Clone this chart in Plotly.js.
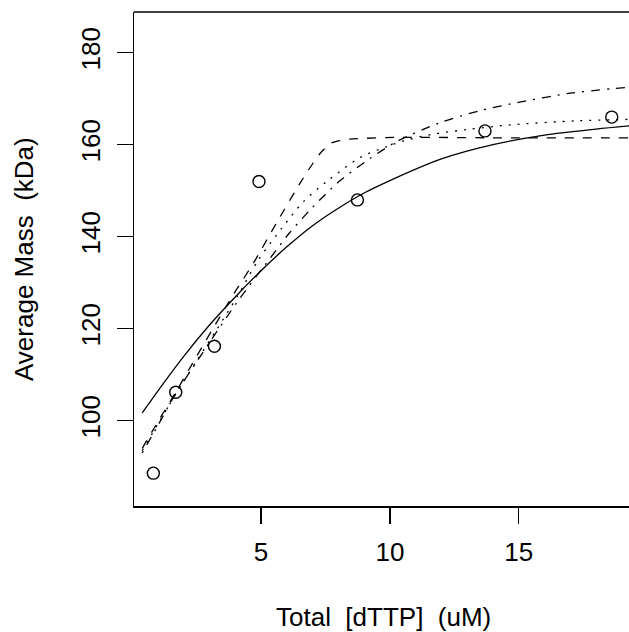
<!DOCTYPE html>
<html>
<head>
<meta charset="utf-8">
<script src="https://cdn.plot.ly/plotly-3.0.1.min.js"></script>
<style>html,body{margin:0;padding:0;background:#fff;overflow:hidden}#chart{width:629px;height:632px}</style>
</head>
<body>
<div id="chart"></div>
<script>
// Observed data (open circles)
const obsX = [0.82, 1.69, 3.19, 4.92, 8.74, 13.69, 18.61];
const obsY = [88.6, 106.2, 116.2, 152.0, 148.0, 163.0, 166.0];

// Fitted curves
const solidX = [0.39, 1.0, 2.0, 3.0, 4.0, 5.0, 6.0, 7.0, 8.0, 9.0, 10.0, 12.0, 14.0, 16.0, 18.0, 19.29];
const solidY = [101.7, 106.5, 114.0, 120.8, 126.9, 132.6, 137.8, 142.4, 146.2, 149.5, 152.2, 156.9, 160.0, 162.1, 163.4, 164.1];

const dashX = [0.39, 1.0, 1.69, 2.5, 3.3, 3.99, 4.70, 5.6, 6.51, 6.84, 7.29, 7.74, 8.45, 10.4, 14.0, 19.29];
const dashY = [94.0, 99.8, 106.2, 114.0, 121.6, 128.0, 134.2, 143.0, 151.6, 154.5, 158.1, 160.4, 161.2, 161.6, 161.5, 161.5];

const dotX = [0.39, 1.0, 1.69, 2.5, 3.3, 4.1, 4.89, 5.8, 6.64, 7.55, 8.84, 9.88, 10.78, 11.69, 12.99, 14.67, 17.26, 19.29];
const dotY = [93.5, 99.3, 105.8, 113.0, 120.0, 127.2, 134.9, 141.8, 147.6, 152.0, 157.2, 159.6, 161.2, 162.3, 163.3, 164.3, 165.2, 165.5];

const dotdashX = [0.39, 1.0, 1.69, 2.5, 3.3, 4.1, 5.35, 6.1, 6.90, 7.68, 8.07, 9.23, 10.27, 11.95, 13.5, 14.99, 17.0, 19.29];
const dotdashY = [93.0, 99.0, 105.9, 112.8, 119.5, 126.0, 135.3, 140.8, 145.8, 150.2, 152.2, 157.0, 160.7, 164.8, 167.4, 169.2, 171.2, 172.5];

const xTicks = [5, 10, 15];
const yTicks = [100, 120, 140, 160, 180];
const xLabel = 'Total\u00A0 [dTTP]\u00A0 (uM)';
const yLabel = 'Average Mass\u00A0 (kDa)';

const FONT = 'Liberation Sans, Arial, Helvetica, sans-serif';
const LW = 1.3;

const traces = [
  {x: solidX, y: solidY, mode: 'lines', line: {color: 'black', width: LW, dash: 'solid', shape: 'spline', smoothing: 0.8}, hoverinfo: 'skip'},
  {x: dashX, y: dashY, mode: 'lines', line: {color: 'black', width: LW, dash: '9px,9px', shape: 'spline', smoothing: 0.6}, hoverinfo: 'skip'},
  {x: dotX, y: dotY, mode: 'lines', line: {color: 'black', width: LW, dash: '2px,7px', shape: 'spline', smoothing: 0.8}, hoverinfo: 'skip'},
  {x: dotdashX, y: dotdashY, mode: 'lines', line: {color: 'black', width: LW, dash: '2px,7px,9px,7px', shape: 'spline', smoothing: 0.8}, hoverinfo: 'skip'},
  {x: obsX, y: obsY, mode: 'markers', marker: {symbol: 'circle-open', size: 12, color: 'black', line: {width: 1.4, color: 'black'}}}
];

const layout = {
  width: 629, height: 632,
  margin: {l: 134, r: 0, t: 12, b: 126},
  paper_bgcolor: 'white', plot_bgcolor: 'white',
  showlegend: false,
  font: {family: FONT, size: 26, color: 'black'},
  xaxis: {
    range: [0.07, 19.28], tickvals: xTicks, ticktext: xTicks.map(String),
    showgrid: false, zeroline: false, showline: true, linecolor: 'black', linewidth: 1.5,
    ticks: 'outside', ticklen: 16, tickwidth: 1.5, tickcolor: 'black',
    tickfont: {family: FONT, size: 26, color: 'black'}, ticklabelstandoff: 6
  },
  yaxis: {
    range: [81.46, 188.85], tickvals: yTicks, ticktext: yTicks.map(String),
    showgrid: false, zeroline: false, showline: true, linecolor: 'black', linewidth: 1.5,
    ticks: 'outside', ticklen: 16, tickwidth: 1.5, tickcolor: 'black', tickangle: -90,
    tickfont: {family: FONT, size: 26, color: 'black'}, ticklabelstandoff: 6
  },
  shapes: [
    {type: 'line', xref: 'paper', yref: 'paper', x0: 0, x1: 1.01, y0: 1, y1: 1, line: {color: 'black', width: 1.5}}
  ],
  annotations: [
    {text: xLabel, xref: 'paper', yref: 'paper', x: 0.5, y: 0, xanchor: 'center', yanchor: 'middle', yshift: -111, xshift: 2, showarrow: false, font: {family: FONT, size: 26, color: 'black'}},
    {text: yLabel, xref: 'paper', yref: 'paper', x: 0, y: 0.5, xanchor: 'center', yanchor: 'middle', xshift: -110, textangle: -90, showarrow: false, font: {family: FONT, size: 26, color: 'black'}}
  ]
};

Plotly.newPlot('chart', traces, layout, {staticPlot: true, displayModeBar: false});
</script>
</body>
</html>
